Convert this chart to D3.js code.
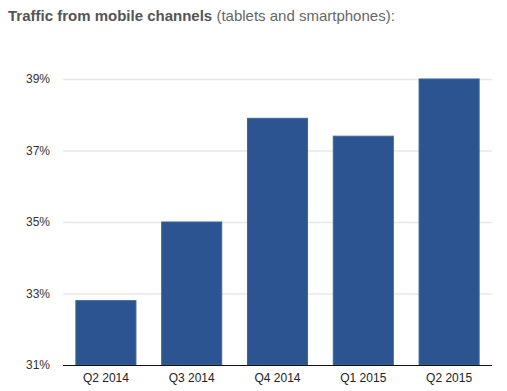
<!DOCTYPE html>
<html>
<head>
<meta charset="utf-8">
<script src="https://cdn.jsdelivr.net/npm/d3@7"></script>
<style>
  body { margin: 0; background: #fff; }
  svg { display: block; font-family: "Liberation Sans", Arial, sans-serif; }
</style>
</head>
<body>
<div id="chart"></div>
<script>
// Data
const quarters = ["Q2 2014", "Q3 2014", "Q4 2014", "Q1 2015", "Q2 2015"];
const mobileShare = [32.8, 35.0, 37.9, 37.4, 39.0];
const yTicks = [31, 33, 35, 37, 39];

const width = 507, height = 391;
const margin = { top: 79, right: 15, bottom: 26, left: 63 };

const svg = d3.select("#chart").append("svg").attr("width", width).attr("height", height);

// Title: bold part + regular part
const title = svg.append("text").attr("x", 8).attr("y", 21).attr("font-size", "15px").attr("fill", "#555");
title.append("tspan").attr("font-weight", "bold").text("Traffic from mobile channels");
title.append("tspan").attr("fill", "#666").text(" (tablets and smartphones):");

const xScale = d3.scaleBand().domain(quarters).range([margin.left, width - margin.right]).paddingInner(0.3).paddingOuter(0.15);
const yScale = d3.scaleLinear().domain([31, 39]).range([height - margin.bottom, margin.top]);

// Grid lines
svg.append("g").selectAll("line")
    .data(yTicks.slice(1)).enter().append("line")
    .attr("x1", margin.left)
    .attr("x2", width - margin.right)
    .attr("y1", d => yScale(d) + 0.5)
    .attr("y2", d => yScale(d) + 0.5)
    .attr("stroke", "#e8e8e8")
    .attr("stroke-width", 1.5);

// Y tick labels
svg.append("g").selectAll("text")
    .data(yTicks).enter().append("text")
    .attr("x", 50)
    .attr("y", d => yScale(d) + 4)
    .attr("text-anchor", "end")
    .attr("font-size", "12px")
    .attr("fill", "#333")
    .text(d => d + "%");

// Bars
const barData = quarters.map((q, i) => ({ quarter: q, value: mobileShare[i] }));
svg.append("g").selectAll("rect")
    .data(barData).enter().append("rect")
    .attr("x", d => xScale(d.quarter))
    .attr("y", d => yScale(d.value))
    .attr("width", xScale.bandwidth())
    .attr("height", d => yScale(31) - yScale(d.value))
    .attr("fill", "#2b5490")
    .attr("stroke", "#3d659c")
    .attr("stroke-width", 1);

// Baseline
svg.append("line")
    .attr("x1", margin.left)
    .attr("x2", width - margin.right)
    .attr("y1", yScale(31) + 0.5)
    .attr("y2", yScale(31) + 0.5)
    .attr("stroke", "#111")
    .attr("stroke-width", 1.2);

// X labels
svg.append("g").selectAll("text")
    .data(quarters).enter().append("text")
    .attr("x", d => xScale(d) + xScale.bandwidth() / 2)
    .attr("y", yScale(31) + 17)
    .attr("text-anchor", "middle")
    .attr("font-size", "12px")
    .attr("fill", "#222")
    .text(d => d);
</script>
</body>
</html>
